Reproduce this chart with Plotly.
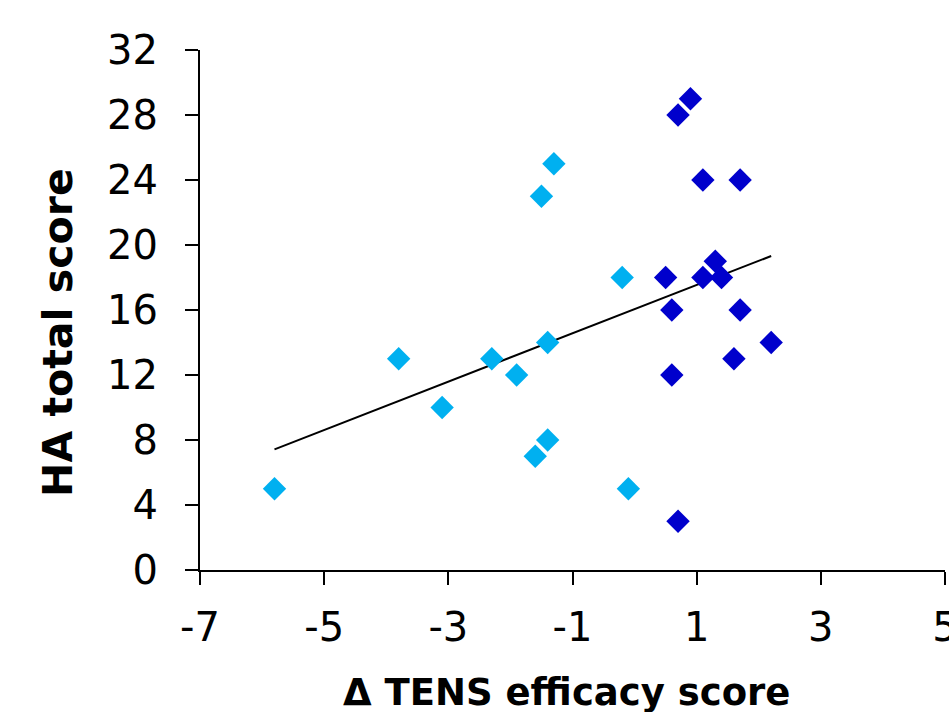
import numpy as np
import plotly.graph_objects as go

# Data
light_x = [-5.8, -3.8, -3.1, -2.3, -1.9, -1.6, -1.5, -1.4, -1.4, -1.3, -0.2, -0.1]
light_y = [5, 13, 10, 13, 12, 7, 23, 14, 8, 25, 18, 5]
dark_x = [0.5, 0.6, 0.6, 0.7, 0.7, 0.9, 1.1, 1.1, 1.3, 1.4, 1.6, 1.7, 1.7, 2.2]
dark_y = [18, 16, 12, 28, 3, 29, 24, 18, 19, 18, 13, 24, 16, 14]
x_ticks = [-7, -5, -3, -1, 1, 3, 5]
y_ticks = [0, 4, 8, 12, 16, 20, 24, 28, 32]

all_x = np.array(light_x + dark_x)
all_y = np.array(light_y + dark_y)
slope, intercept = np.polyfit(all_x, all_y, 1)
tx = np.array([all_x.min(), all_x.max()])
ty = slope * tx + intercept

FONT = "DejaVu Sans, Verdana, sans-serif"

fig = go.Figure()
fig.add_trace(go.Scatter(x=tx, y=ty, mode="lines",
                         line=dict(color="black", width=2), showlegend=False))
fig.add_trace(go.Scatter(x=light_x, y=light_y, mode="markers",
                         marker=dict(symbol="diamond", size=18, color="#00B0F0"),
                         showlegend=False))
fig.add_trace(go.Scatter(x=dark_x, y=dark_y, mode="markers",
                         marker=dict(symbol="diamond", size=18, color="#0000CC"),
                         showlegend=False))

fig.update_layout(
    width=949, height=712,
    margin=dict(l=200, r=4, t=50, b=142),
    paper_bgcolor="white", plot_bgcolor="white",
    font=dict(family=FONT, color="black"),
    annotations=[
        dict(text="<b>HA total score</b>", textangle=-90,
             xref="paper", yref="paper", x=0, y=0.456, xshift=-142,
             xanchor="center", yanchor="middle", showarrow=False,
             font=dict(size=41, family=FONT, color="black")),
        dict(text="<b>Δ TENS efficacy score</b>",
             xref="paper", yref="paper", x=0.5, y=0, xshift=-6, yshift=-122,
             xanchor="center", yanchor="middle", showarrow=False,
             font=dict(size=37, family=FONT, color="black")),
    ],
)
fig.update_xaxes(
    range=[-7, 5], tickvals=x_ticks, ticktext=[str(v) for v in x_ticks],
    showgrid=False, zeroline=False, showline=True, linecolor="black", linewidth=2,
    ticks="outside", ticklen=13, tickwidth=2, tickcolor="black",
    tickfont=dict(size=40, family=FONT), ticklabelstandoff=8,
    ticklabeloverflow="allow", automargin=False,
)
fig.update_yaxes(
    range=[0, 32], tickvals=y_ticks, ticktext=[str(v) for v in y_ticks],
    showgrid=False, zeroline=False, showline=True, linecolor="black", linewidth=2,
    ticks="outside", ticklen=13, tickwidth=2, tickcolor="black",
    tickfont=dict(size=40, family=FONT), ticklabelstandoff=19,
    ticklabeloverflow="allow", automargin=False,
)

fig.write_html("out.html")
